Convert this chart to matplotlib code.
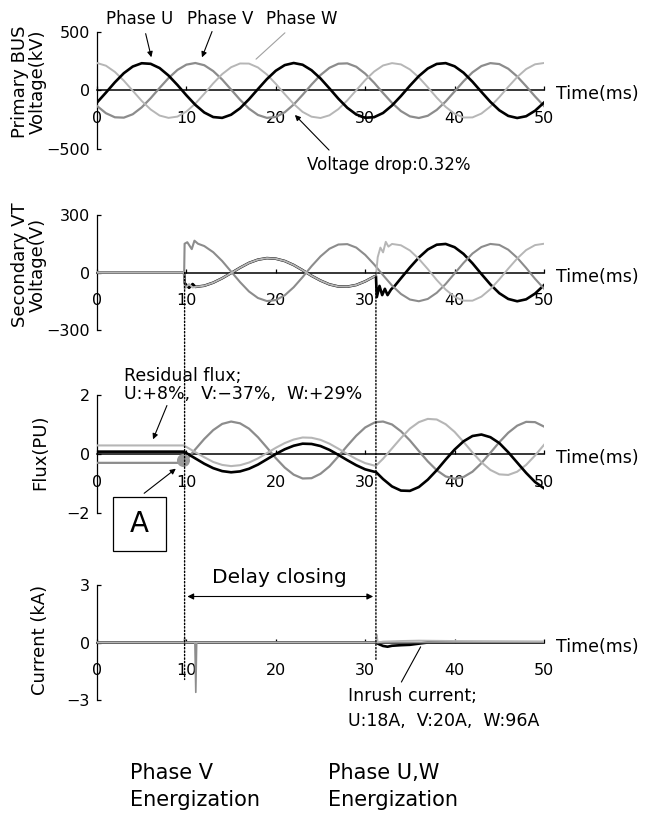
import matplotlib
matplotlib.use("Agg")
import matplotlib.pyplot as plt
import numpy as np
from matplotlib.patches import Rectangle, ConnectionPatch

# ---- data ----
# panel 1: primary bus voltage (kV), sampled every 1 ms
t1 = np.arange(0, 51)
u1 = [-103, -18, 70, 148, 205, 233, 228, 192, 128, 47,
      -41, -123, -188, -227, -234, -207, -152, -75, 12, 97,
      169, 217, 235, 220, 173, 103, 18, -70, -148, -205,
      -233, -228, -192, -128, -47, 41, 123, 188, 227, 234,
      207, 152, 75, -12, -97, -169, -217, -235, -220, -173, -103]
v1 = [-132, -194, -229, -232, -203, -144, -66, 22, 106, 176,
      221, 235, 216, 166, 94, 8, -79, -155, -209, -234,
      -226, -186, -120, -37, 51, 132, 194, 229, 232, 203,
      144, 66, -22, -106, -176, -221, -235, -216, -166, -94,
      -8, 79, 155, 209, 234, 226, 186, 120, 37, -51, -132]
w1 = [235, 212, 159, 84, -2, -89, -162, -214, -234, -223,
      -180, -112, -28, 61, 140, 199, 231, 230, 197, 137,
      57, -31, -115, -183, -224, -235, -212, -159, -84, 2,
      89, 162, 214, 234, 223, 180, 112, 28, -61, -140,
      -199, -231, -230, -197, -137, -57, 31, 115, 183, 224, 235]

# panel 2: secondary VT voltage (V)
t2_v = np.concatenate([[0, 9.75, 9.8, 10.1, 10.6, 10.9, 11.3], np.arange(12, 51)])
v2 = [0, 0, 150, 158, 122, 166, 150,
      138, 106, 60, 5, -50, -99, -133, -149, -144, -119,
      -77, -24, 33, 84, 124, 146, 148, 130, 92, 42,
      -14, -68, -112, -141, -150, -138, -106, -60, -5, 50,
      99, 133, 149, 144, 119, 77, 24, -33, -84]
t2_u = np.concatenate([[0, 9.75, 9.8, 10.3, 10.7, 11], np.arange(12, 32),
                       [31.2, 31.3, 31.6, 31.9, 32.2, 32.5, 32.9, 33.3], np.arange(34, 51)])
u2 = [0, 0, -55, -80, -60, -75,
      -69, -53, -30, -3, 25, 50, 67, 75, 72, 60, 39, 12, -17, -42, -62, -73, -74, -65, -46, -21,
      -18, -128, -70, -118, -85, -118, -88, -70,
      -30, 26, 78, 120, 145, 149, 132, 97, 48, -8, -62, -108, -138, -150, -140, -110, -66]
t2_w = np.concatenate([[0, 9.75, 9.8, 10.3, 10.7, 11], np.arange(12, 32),
                       [31.2, 31.4, 31.7, 32.0, 32.3, 32.6, 33], np.arange(34, 51)])
w2 = [0, 0, -85, -60, -78, -75,
      -69, -53, -30, -3, 25, 50, 67, 75, 72, 60, 39, 12, -17, -42, -62, -73, -74, -65, -46, -21,
      -18, 80, 130, 105, 160, 135, 149,
      142, 115, 71, 18, -39, -89, -127, -147, -147, -126, -87, -36, 20, 73, 117, 143, 150]

# panel 3: flux (PU)
t3 = np.concatenate([[0, 9.7], np.arange(10, 32), [31.2], np.arange(32, 51)])
u3 = [0.08, 0.08,
      0.03, -0.15, -0.33, -0.48, -0.58, -0.62, -0.59, -0.50, -0.36, -0.18, 0.00,
      0.16, 0.28, 0.35, 0.34, 0.27, 0.14, -0.03, -0.21, -0.38, -0.52, -0.60,
      -0.61,
      -0.85, -1.10, -1.24, -1.25, -1.12, -0.87, -0.55, -0.19, 0.15, 0.43,
      0.61, 0.66, 0.57, 0.37, 0.06, -0.29, -0.64, -0.95, -1.16]
v3 = [-0.30, -0.30,
      -0.20, 0.16, 0.51, 0.81, 1.02, 1.10, 1.04, 0.86, 0.57, 0.22, -0.14,
      -0.46, -0.70, -0.83, -0.82, -0.67, -0.42, -0.08, 0.28, 0.62, 0.90, 1.06,
      1.08,
      1.10, 1.00, 0.77, 0.46, 0.10, -0.25, -0.55, -0.76, -0.84, -0.78,
      -0.60, -0.31, 0.04, 0.40, 0.72, 0.96, 1.09, 1.08, 0.93]
w3 = [0.29, 0.29,
      0.24, 0.06, -0.11, -0.27, -0.37, -0.41, -0.38, -0.29, -0.15, 0.03, 0.21,
      0.37, 0.49, 0.56, 0.55, 0.48, 0.35, 0.18, 0.00, -0.17, -0.31, -0.39,
      -0.40,
      -0.16, 0.19, 0.54, 0.86, 1.08, 1.19, 1.17, 1.01, 0.75, 0.41,
      0.05, -0.28, -0.54, -0.69, -0.71, -0.60, -0.37, -0.05, 0.31]

# panel 4: current (kA)
t4_u = [0, 31.2, 31.5, 32, 32.5, 33, 34, 35, 36, 37, 50]
u4 = [0, 0, -0.08, -0.18, -0.22, -0.17, -0.14, -0.12, -0.06, 0, 0]
t4_v = [0, 9.75, 9.8, 9.9, 10.95, 11.05, 11.15, 50]
v4 = [0, 0, 0.2, 0, 0, -2.6, 0, 0]
t4_w = [0, 31.2, 31.3, 31.4, 32, 34, 36, 40, 50]
w4 = [0, 0, 0.4, 0, 0.05, 0.08, 0.1, 0.08, 0.06]

x_ticks = [0, 10, 20, 30, 40, 50]

C_U, C_V, C_W = "black", "#8c8c8c", "#b6b6b6"
W_PX, H_PX = 656, 813

plt.rcParams["font.family"] = ["DejaVu Sans"]

fig = plt.figure(figsize=(6.56, 8.13), dpi=100)


def panel(top, bottom, lim, left=97, right=544):
    ax = fig.add_axes([left / W_PX, 1 - bottom / H_PX,
                       (right - left) / W_PX, (bottom - top) / H_PX])
    ax.set_xlim(0, 50)
    ax.set_ylim(-lim, lim)
    ax.patch.set_visible(False)
    for s in ["top", "right"]:
        ax.spines[s].set_visible(False)
    ax.spines["bottom"].set_position(("data", 0))
    ax.spines["left"].set_bounds(-lim, lim)
    ax.spines["bottom"].set_bounds(0, 50)
    ax.spines["bottom"].set_linewidth(1.1)
    ax.spines["left"].set_linewidth(0.9)
    ax.set_xticks(x_ticks)
    ax.set_yticks([-lim, 0, lim])
    ax.tick_params(axis="x", direction="in", length=3, width=0.9, pad=15, labelsize=11.5)
    ax.tick_params(axis="y", direction="in", length=3, width=0.9, pad=5, labelsize=11.5)
    ax.annotate("Time(ms)", xy=(50, 0), xytext=(12, -4), textcoords="offset pixels",
                ha="left", va="center", fontsize=12.5, annotation_clip=False)
    return ax


ax1 = panel(32, 149, 500)
ax2 = panel(215, 330, 300)
ax3 = panel(395, 513, 2)
ax4 = panel(585, 700, 3)

# panel 1
ax1.plot(t1, v1, color=C_V, lw=1.6, zorder=3)
ax1.plot(t1, w1, color=C_W, lw=1.4, zorder=3)
ax1.plot(t1, u1, color=C_U, lw=1.9, zorder=4)

# panel 2
ax2.plot(t2_u, u2, color=C_U, lw=1.9, zorder=3)
ax2.plot(t2_v, v2, color=C_V, lw=1.5, zorder=3)
ax2.plot(t2_w, w2, color=C_W, lw=1.4, zorder=4)

# panel 3
ax3.plot(t3, v3, color=C_V, lw=1.6, zorder=3)
ax3.plot(t3, w3, color=C_W, lw=1.5, zorder=3)
ax3.plot(t3, u3, color=C_U, lw=1.9, zorder=4)

# panel 4
ax4.plot(t4_u, u4, color=C_U, lw=1.9, zorder=3)
ax4.plot(t4_v, v4, color=C_V, lw=1.2, zorder=3)
ax4.plot(t4_w, w4, color=C_W, lw=1.3, zorder=4)

# ---- annotations ----
head = dict(arrowstyle="-|>", color="black", lw=0.8, mutation_scale=8)
ax1.text(4.81, 611, "Phase U", ha="center", va="center", fontsize=12)
ax1.text(13.76, 611, "Phase V", ha="center", va="center", fontsize=12)
ax1.text(22.93, 611, "Phase W", ha="center", va="center", fontsize=12)
ax1.annotate("", xy=(6.15, 261), xytext=(5.37, 509), arrowprops=head, annotation_clip=False)
ax1.annotate("", xy=(11.63, 261), xytext=(12.98, 526), arrowprops=head, annotation_clip=False)
ax1.annotate("", xy=(17.56, 252), xytext=(21.25, 509),
             arrowprops=dict(arrowstyle="-", color="#a0a0a0", lw=0.8), annotation_clip=False)
ax1.annotate("", xy=(21.92, -192), xytext=(26.17, -526), arrowprops=head, annotation_clip=False)
ax1.text(23.5, -637, "Voltage drop:0.32%", ha="left", va="center", fontsize=12)

ax2.set_ylabel("")
fig.text(29 / W_PX, 1 - 82 / H_PX, "Primary BUS\nVoltage(kV)", rotation=90,
         ha="center", va="center", multialignment="center", fontsize=13, linespacing=1.05)
fig.text(29 / W_PX, 1 - 265 / H_PX, "Secondary VT\nVoltage(V)", rotation=90,
         ha="center", va="center", multialignment="center", fontsize=13, linespacing=1.05)
fig.text(40 / W_PX, 1 - 452 / H_PX, "Flux(PU)", rotation=90,
         ha="center", va="center", fontsize=13)
fig.text(40 / W_PX, 1 - 640 / H_PX, "Current (kA)", rotation=90,
         ha="center", va="center", fontsize=13)

ax3.text(3.02, 2.64, "Residual flux;", ha="left", va="center", fontsize=12.5)
ax3.text(3.02, 2.03, "U:+8%,  V:\u221237%,  W:+29%", ha="left", va="center", fontsize=12.5)
ax3.annotate("", xy=(6.15, 0.41), xytext=(7.94, 1.73), arrowprops=head, annotation_clip=False)
ax3.scatter([9.62], [-0.22], s=70, color="#9a9a9a", zorder=5, clip_on=False)
ax3.add_patch(Rectangle((1.79, -3.29), 5.93, 1.83, fill=False, edgecolor="black",
                        lw=0.9, clip_on=False))
ax3.text(4.75, -2.37, "A", ha="center", va="center", fontsize=20)
ax3.annotate("", xy=(9.06, -0.44), xytext=(5.03, -1.39), arrowprops=head, annotation_clip=False)

ax4.text(20.36, 3.39, "Delay closing", ha="center", va="center", fontsize=14.5)
ax4.annotate("", xy=(9.8, 2.4), xytext=(31.2, 2.4),
             arrowprops=dict(arrowstyle="<|-|>", color="black", lw=0.8, mutation_scale=9),
             annotation_clip=False)
ax4.annotate("", xy=(36.35, -0.1), xytext=(33.9, -2.19),
             arrowprops=dict(arrowstyle="-", color="black", lw=0.8), annotation_clip=False)
ax4.text(28.08, -2.77, "Inrush current;", ha="left", va="center", fontsize=12.5)
ax4.text(28.08, -4.12, "U:18A,  V:20A,  W:96A", ha="left", va="center", fontsize=12.5)

# dotted closing-instant lines through the panels
for tc, yend in [(9.8, -1.93), (31.2, -0.89)]:
    con = ConnectionPatch(xyA=(tc, 0), coordsA=ax2.transData,
                          xyB=(tc, yend), coordsB=ax4.transData,
                          linestyle=(0, (1, 1.5)), color="black", lw=1.0)
    fig.add_artist(con)

fig.text(130 / W_PX, 1 - 773 / H_PX, "Phase V", ha="left", va="center", fontsize=15)
fig.text(130 / W_PX, 1 - 800 / H_PX, "Energization", ha="left", va="center", fontsize=15)
fig.text(328 / W_PX, 1 - 773 / H_PX, "Phase U,W", ha="left", va="center", fontsize=15)
fig.text(328 / W_PX, 1 - 800 / H_PX, "Energization", ha="left", va="center", fontsize=15)

fig.savefig("out.png", dpi=100)
